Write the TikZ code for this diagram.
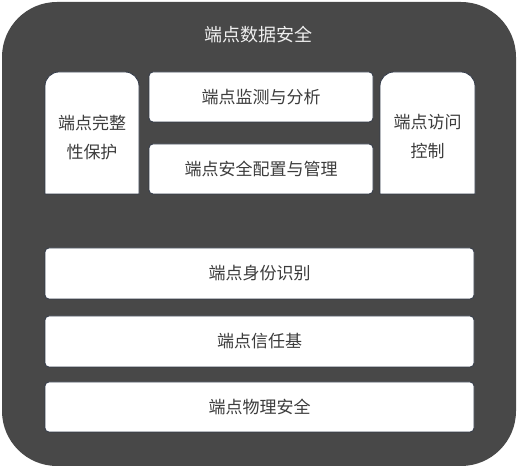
\documentclass[tikz,border=0pt]{standalone}
\usepackage{fontspec}
\newfontfamily\cjk{Noto Sans CJK SC}
\usetikzlibrary{positioning}
\definecolor{bgdark}{HTML}{484848}
\definecolor{edge}{HTML}{323A48}
\definecolor{txt}{HTML}{3C3C3C}

\tikzset{
  layer/.style={draw=edge, line width=0.8pt, fill=white, rounded corners=4pt,
    minimum height=50pt, inner sep=0pt, text=txt, font=\cjk\fontsize{17}{28}\selectfont},
  label/.style={text=txt, align=center, font=\cjk\fontsize{17}{29}\selectfont},
  tallbox/.style={draw=edge, line width=0.8pt, fill=white}
}

\begin{document}
\begin{tikzpicture}[x=1pt, y=1pt]
\useasboundingbox (0,0) rectangle (520,468);
\fill[bgdark, rounded corners=55pt] (2,2) rectangle (516,466);
\node[text=white!94!black, font=\cjk\fontsize{18}{22}\selectfont] (title) at (258,433) {端点数据安全};

% tall boxes with round tops
\draw[tallbox] (45,274) -- (45,382) arc[start angle=180, end angle=90, radius=14]
  -- (125,396) arc[start angle=90, end angle=0, radius=14] -- (139,274) -- cycle;
\draw[tallbox] (380,274) -- (380,382) arc[start angle=180, end angle=90, radius=14]
  -- (461,396) arc[start angle=90, end angle=0, radius=14] -- (475,274) -- cycle;
\node[label] (integ) at (92,331) {端点完整\\性保护};
\node[label] (access) at (427.5,331) {端点访问\\控制};

\node[layer, minimum width=224pt] (monitor) at (261,371) {端点监测与分析};
\node[layer, minimum width=224pt] (config) at (261,299) {端点安全配置与管理};

\node[layer, minimum width=429pt, minimum height=51pt] (ident) at (259.5,194.5) {端点身份识别};
\node[layer, minimum width=429pt, minimum height=51pt] (trust) at (259.5,126.5) {端点信任基};
\node[layer, minimum width=429pt] (phys) at (259.5,61) {端点物理安全};
\end{tikzpicture}
\end{document}
